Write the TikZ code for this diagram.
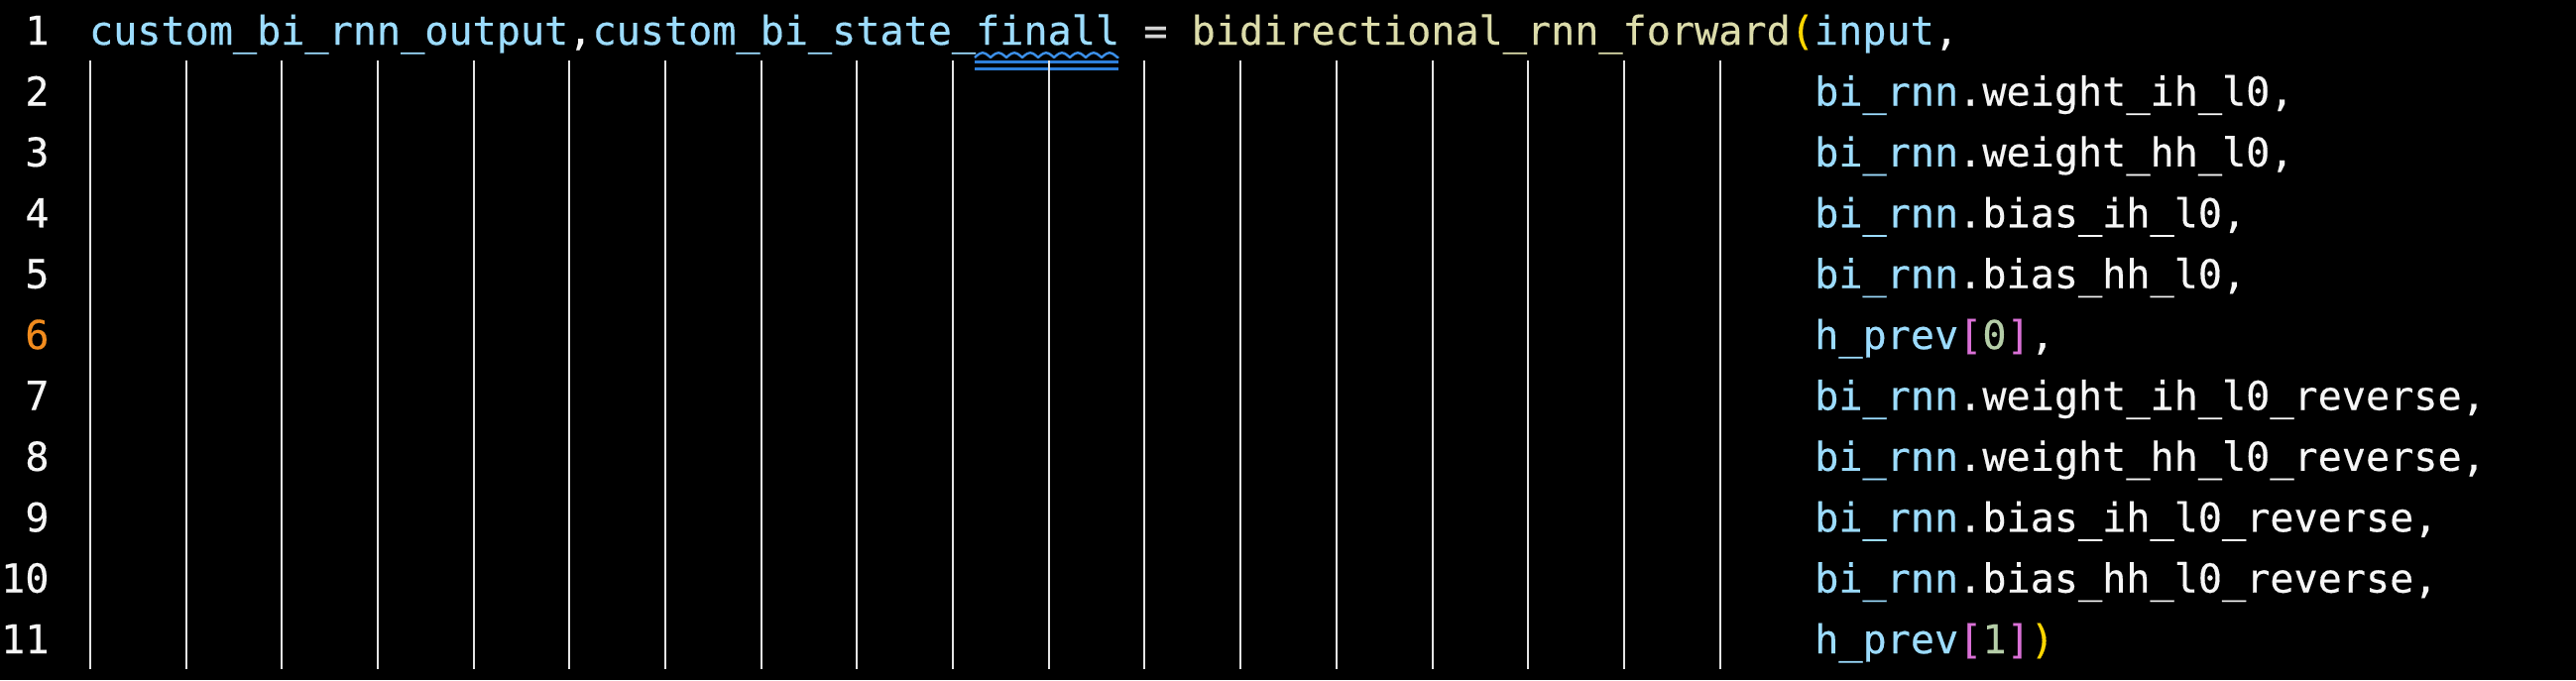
\documentclass[tikz,border=0pt]{standalone}
\usepackage{fontspec}
\newfontfamily\codefont[FakeBold=0.35]{DejaVu Sans Mono}
\definecolor{bgc}{HTML}{000000}
\definecolor{var}{HTML}{9CDCFE}
\definecolor{fn}{HTML}{DCDCAA}
\definecolor{par}{HTML}{FFD700}
\definecolor{brk}{HTML}{DA70D6}
\definecolor{num}{HTML}{B5CEA8}
\definecolor{txt}{HTML}{F6F6F6}
\definecolor{op}{HTML}{D4D4D4}
\definecolor{lnum}{HTML}{F6F6F6}
\definecolor{lact}{HTML}{F28C1E}
\definecolor{guide}{HTML}{E4E4E4}
\definecolor{wavec}{HTML}{3B8FE8}
\definecolor{barc}{HTML}{2E7FDA}
\newcommand{\V}[1]{\textcolor{var}{#1}}
\newcommand{\F}[1]{\textcolor{fn}{#1}}
\newcommand{\Pa}[1]{\textcolor{par}{#1}}
\newcommand{\B}[1]{\textcolor{brk}{#1}}
\newcommand{\N}[1]{\textcolor{num}{#1}}
\newcommand{\Op}[1]{\textcolor{op}{#1}}
\tikzset{
  codefnt/.style={font={\codefont\fontsize{20.07pt}{24pt}\selectfont}},
  code/.style={codefnt, anchor=base west, inner sep=0pt, outer sep=0pt, text=txt},
  lno/.style={codefnt, anchor=base east, inner sep=0pt, outer sep=0pt, text=lnum},
  guideline/.style={draw=guide, line width=1pt},
  squiggle/.style={draw=wavec, line width=1.2pt, line join=round},
  underbar/.style={fill=barc}
}
\begin{document}
\begin{tikzpicture}[x=0.5pt,y=-0.5pt]
\useasboundingbox (0,0) rectangle (2598,686);
\fill[bgc] (0,0) rectangle (2598,686);
% underline under "finall"
\draw[squiggle] plot[domain=983:1128, samples=290] (\x,{58-4.6*abs(sin(11.25*(\x-983)))});
\fill[underbar] (983,61.2) rectangle (1128,64.2);
\fill[underbar] (983,67.6) rectangle (1128,70.6);
% indent guides
\foreach \k in {0,...,17} {
  \draw[guideline] ({91+\k*96.68},61) -- ({91+\k*96.68},675);
}
% line numbers
\foreach \n in {1,...,11} {
  \ifnum\n=6
    \node[lno, text=lact] (ln\n) at (49.5,{45.1+(\n-1)*61.4}) {\n};
  \else
    \node[lno] (ln\n) at (49.5,{45.1+(\n-1)*61.4}) {\n};
  \fi
}
% code
\node[code] (c1) at (90,45.1) {\V{custom\_bi\_rnn\_output},\V{custom\_bi\_state\_finall}\Op{~=~}\F{bidirectional\_rnn\_forward}\Pa{(}\V{input},};
\node[code] (c2) at (1830.2,106.5) {\V{bi\_rnn}.weight\_ih\_l0,};
\node[code] (c3) at (1830.2,167.9) {\V{bi\_rnn}.weight\_hh\_l0,};
\node[code] (c4) at (1830.2,229.3) {\V{bi\_rnn}.bias\_ih\_l0,};
\node[code] (c5) at (1830.2,290.7) {\V{bi\_rnn}.bias\_hh\_l0,};
\node[code] (c6) at (1830.2,352.1) {\V{h\_prev}\B{[}\N{0}\B{]},};
\node[code] (c7) at (1830.2,413.5) {\V{bi\_rnn}.weight\_ih\_l0\_reverse,};
\node[code] (c8) at (1830.2,474.9) {\V{bi\_rnn}.weight\_hh\_l0\_reverse,};
\node[code] (c9) at (1830.2,536.3) {\V{bi\_rnn}.bias\_ih\_l0\_reverse,};
\node[code] (c10) at (1830.2,597.7) {\V{bi\_rnn}.bias\_hh\_l0\_reverse,};
\node[code] (c11) at (1830.2,659.1) {\V{h\_prev}\B{[}\N{1}\B{]}\Pa{)}};
\end{tikzpicture}
\end{document}
